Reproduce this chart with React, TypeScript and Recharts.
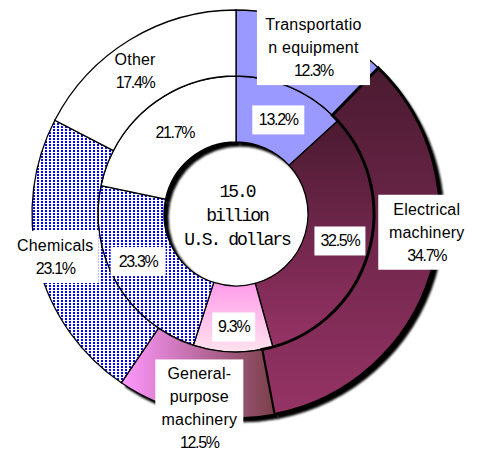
import { PieChart, Pie, Cell } from "recharts";

// categories, clockwise from 12 o'clock
const categories = [
  "Transportation equipment",
  "Electrical machinery",
  "General-purpose machinery",
  "Chemicals",
  "Other",
];
const outerShare = [12.3, 34.7, 12.5, 23.1, 17.4];
const innerShare = [13.2, 32.5, 9.3, 23.3, 21.7];
const outerNames = [
  ["Transportatio", "n equipment"],
  ["Electrical", "machinery"],
  ["General-", "purpose", "machinery"],
  ["Chemicals"],
  ["Other"],
];
const centerLines = ["15.0", "billion", "U.S. dollars"];

const outerData = categories.map((name, i) => ({ name, value: outerShare[i] }));
const innerData = categories.map((name, i) => ({ name, value: innerShare[i] }));

const W = 479;
const H = 450;
const CX = 236;
const CY = 214;
const R0 = 72;
const R1 = 138;
const R2 = 204;
const LINE_H = 23;
const SHADOW = 4;

const innerFills = ["#9999FF", "url(#elecGrad)", "url(#genInnerGrad)", "url(#dots)", "#FFFFFF"];
const outerFills = ["#9999FF", "url(#elecGrad)", "url(#genOuterGrad)", "url(#dots)", "#FFFFFF"];
const outerShadow = ["none", "#000", "#000", "none", "none"];

// label nudges from the mid-angle anchor, and white box widths
const innerNudge = [[0, 2], [3, -2], [0, 8], [-7, -5], [5, 0]];
const outerNudge = [[13, -8], [27, -31], [-2, 27], [-15, 1], [-12, 3]];
const innerBoxW = [52, 51, 43, 55, 0];
const outerBoxW = [113, 97, 88, 87, 0];

const RAD = Math.PI / 180;

function makeLabel(nudge: number[][], boxW: number[], names: string[][] | null) {
  return (p: any) => {
    const r = (p.innerRadius + p.outerRadius) / 2;
    const x = p.cx + r * Math.cos(-p.midAngle * RAD) + nudge[p.index][0];
    const y = p.cy + r * Math.sin(-p.midAngle * RAD) + nudge[p.index][1];
    const words = names ? names[p.index] : [];
    const lines = [...words, `${Number(p.value).toFixed(1)}%`];
    const h = lines.length * LINE_H + 6;
    return (
      <g>
        {boxW[p.index] > 0 && (
          <rect x={x - boxW[p.index] / 2} y={y - h / 2} width={boxW[p.index]} height={h} fill="#fff" />
        )}
        {lines.map((t, i) => {
          const isPct = i === lines.length - 1;
          return (
            <text
              key={i}
              x={x}
              y={y + (i - (lines.length - 1) / 2) * LINE_H}
              textAnchor="middle"
              dominantBaseline="central"
              fontFamily="'Liberation Sans', Arial, sans-serif"
              fontSize={16}
              letterSpacing={isPct ? -1.3 : 0.2}
              fill="#000"
            >
              {t}
            </text>
          );
        })}
      </g>
    );
  };
}

export default function App() {
  return (
    <div style={{ position: "fixed", left: 0, top: 0, width: W, height: H, background: "#fff" }}>
      <PieChart width={W} height={H} margin={{ top: 0, right: 0, bottom: 0, left: 0 }}>
        <defs>
          <linearGradient id="elecGrad" x1="0" y1="0" x2="0" y2="1">
            <stop offset="0%" stopColor="#4A1A30" />
            <stop offset="100%" stopColor="#963366" />
          </linearGradient>
          <linearGradient id="genInnerGrad" x1="0" y1="0" x2="0" y2="1">
            <stop offset="0%" stopColor="#FF9CEA" />
            <stop offset="100%" stopColor="#FFE2EE" />
          </linearGradient>
          <linearGradient id="genOuterGrad" x1="0" y1="0" x2="1" y2="0">
            <stop offset="0%" stopColor="#FF99FF" />
            <stop offset="100%" stopColor="#7A3F48" />
          </linearGradient>
          <pattern id="dots" width="4" height="3" patternUnits="userSpaceOnUse">
            <rect width="4" height="3" fill="#fff" />
            <rect x="1" y="0" width="2" height="2" fill="#0000FF" shapeRendering="crispEdges" />
          </pattern>
          <filter id="soft" x="-10%" y="-10%" width="120%" height="120%">
            <feGaussianBlur stdDeviation="1" />
          </filter>
        </defs>

        {/* shadows */}
        <Pie
          data={innerData}
          dataKey="value"
          nameKey="name"
          cx={CX + SHADOW}
          cy={CY + SHADOW}
          innerRadius={R0}
          outerRadius={R1}
          startAngle={90}
          endAngle={-270}
          isAnimationActive={false}
          stroke="none"
        >
          {innerData.map((d) => (
            <Cell key={d.name} fill="#000" stroke="#000" filter="url(#soft)" />
          ))}
        </Pie>
        <Pie
          data={outerData}
          dataKey="value"
          nameKey="name"
          cx={CX + SHADOW}
          cy={CY + SHADOW}
          innerRadius={R1}
          outerRadius={R2}
          startAngle={90}
          endAngle={-270}
          isAnimationActive={false}
          stroke="none"
        >
          {outerData.map((d, i) => (
            <Cell key={d.name} fill={outerShadow[i]} stroke={outerShadow[i]} filter="url(#soft)" />
          ))}
        </Pie>

        <Pie
          data={innerData}
          dataKey="value"
          nameKey="name"
          cx={CX}
          cy={CY}
          innerRadius={R0}
          outerRadius={R1}
          startAngle={90}
          endAngle={-270}
          isAnimationActive={false}
          labelLine={false}
          label={makeLabel(innerNudge, innerBoxW, null)}
        >
          {innerData.map((d, i) => (
            <Cell key={d.name} fill={innerFills[i]} stroke="#000" strokeWidth={1.3} />
          ))}
        </Pie>
        <Pie
          data={outerData}
          dataKey="value"
          nameKey="name"
          cx={CX}
          cy={CY}
          innerRadius={R1}
          outerRadius={R2}
          startAngle={90}
          endAngle={-270}
          isAnimationActive={false}
          labelLine={false}
          label={makeLabel(outerNudge, outerBoxW, outerNames)}
        >
          {outerData.map((d, i) => (
            <Cell key={d.name} fill={outerFills[i]} stroke="#000" strokeWidth={i === 1 ? 3 : 1.3} />
          ))}
        </Pie>

        {centerLines.map((t, i) => (
          <text
            key={t}
            x={CX + 1}
            y={CY + 2 + (i - 1) * 24}
            textAnchor="middle"
            dominantBaseline="central"
            fontFamily="'Liberation Mono', 'DejaVu Sans Mono', monospace"
            fontSize={18}
            letterSpacing={-2}
            fill="#000"
          >
            {t}
          </text>
        ))}
      </PieChart>
    </div>
  );
}
